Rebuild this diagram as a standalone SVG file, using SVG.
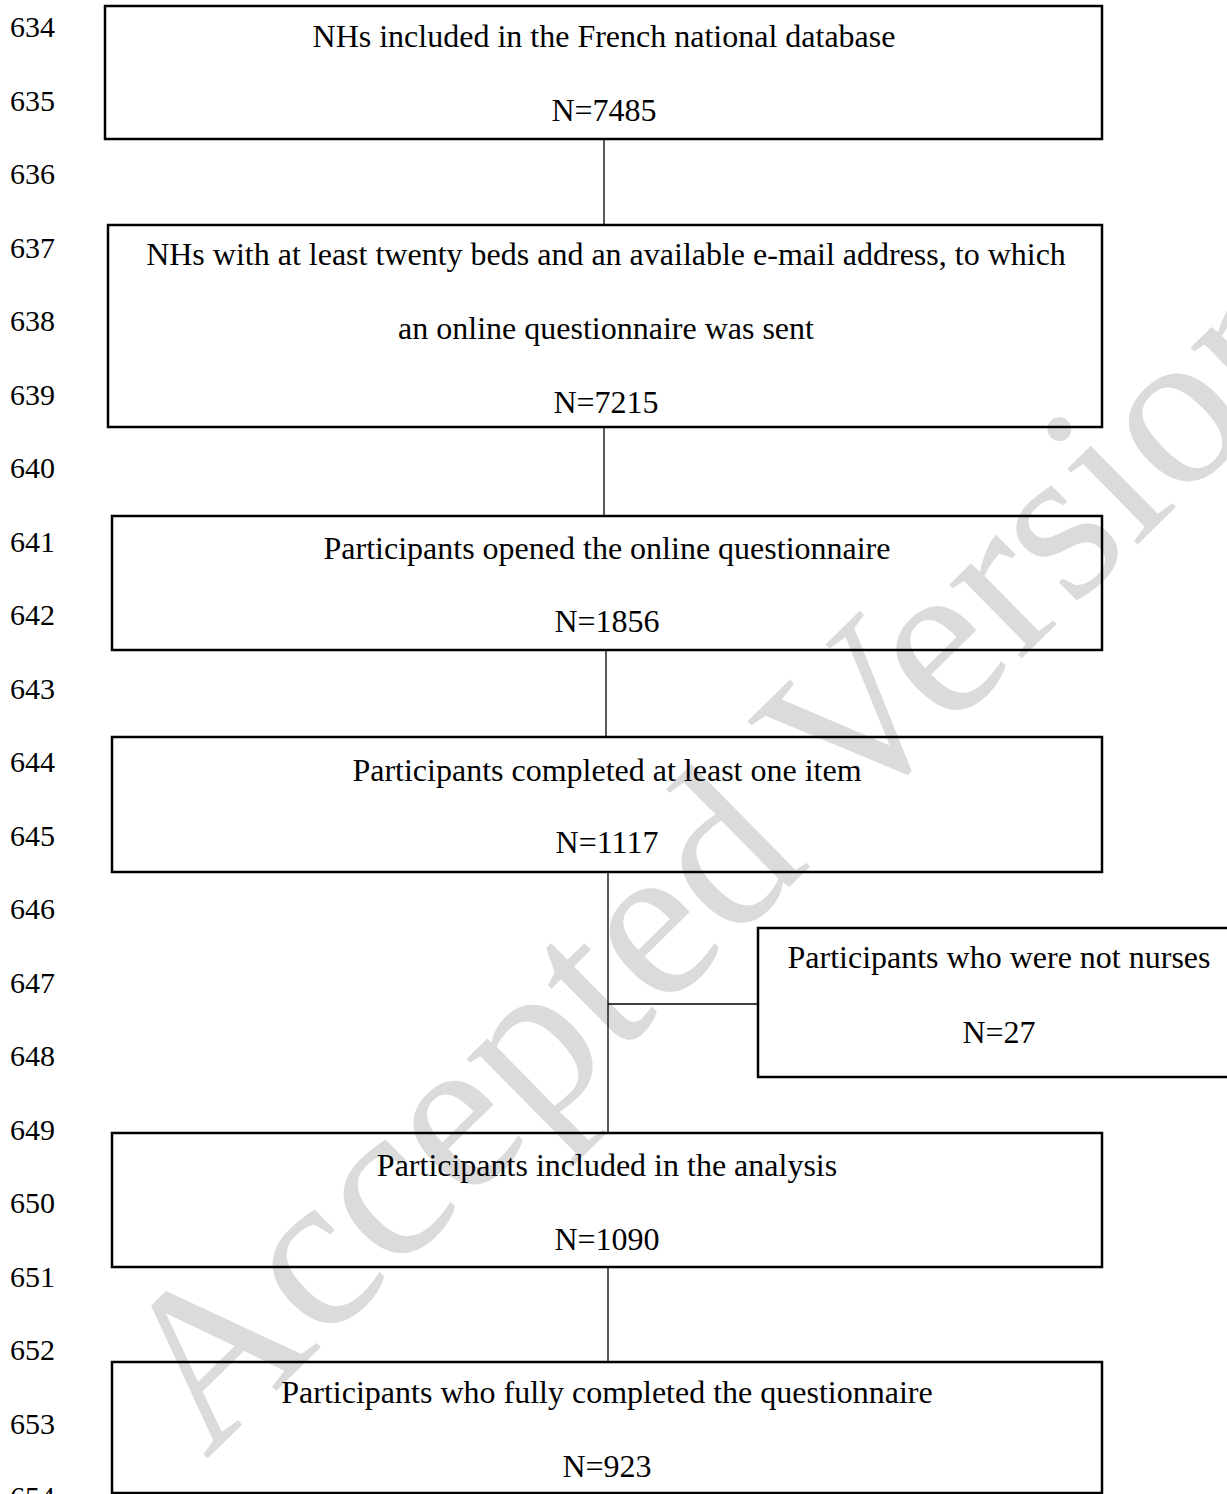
<svg xmlns="http://www.w3.org/2000/svg" width="1227" height="1494" viewBox="0 0 1227 1494">
<style>
  .ln { font-family: "Liberation Serif", "Times New Roman", serif; font-size: 30px; fill: #000; }
  .t { font-family: "Liberation Serif", "Times New Roman", serif; font-size: 32px; fill: #000; text-anchor: middle; }
  .box { fill: none; stroke: #000; stroke-width: 2.5; }
  .conn { stroke: #000; stroke-width: 1.3; fill: none; }
  .wm { font-family: "Liberation Serif", "Times New Roman", serif; font-size: 225px; fill: #dbdbdb; }
</style>
<rect width="1227" height="1494" fill="#fff"/>
<text class="wm" transform="translate(206,1460) rotate(-44.5)">Accepted Version</text>
<g id="line-numbers">
  <text class="ln" x="10" y="37">634</text>
  <text class="ln" x="10" y="110.5">635</text>
  <text class="ln" x="10" y="184">636</text>
  <text class="ln" x="10" y="257.5">637</text>
  <text class="ln" x="10" y="331">638</text>
  <text class="ln" x="10" y="404.5">639</text>
  <text class="ln" x="10" y="478">640</text>
  <text class="ln" x="10" y="551.5">641</text>
  <text class="ln" x="10" y="625">642</text>
  <text class="ln" x="10" y="698.5">643</text>
  <text class="ln" x="10" y="772">644</text>
  <text class="ln" x="10" y="845.5">645</text>
  <text class="ln" x="10" y="919">646</text>
  <text class="ln" x="10" y="992.5">647</text>
  <text class="ln" x="10" y="1066">648</text>
  <text class="ln" x="10" y="1139.5">649</text>
  <text class="ln" x="10" y="1213">650</text>
  <text class="ln" x="10" y="1286.5">651</text>
  <text class="ln" x="10" y="1360">652</text>
  <text class="ln" x="10" y="1433.5">653</text>
  <text class="ln" x="10" y="1507">654</text>
</g>
<g id="connectors">
  <line class="conn" x1="604" y1="139" x2="604" y2="225"/>
  <line class="conn" x1="604" y1="427" x2="604" y2="516"/>
  <line class="conn" x1="606" y1="650" x2="606" y2="737"/>
  <line class="conn" x1="608" y1="872" x2="608" y2="1133"/>
  <line class="conn" x1="608" y1="1004" x2="758" y2="1004"/>
  <line class="conn" x1="608" y1="1267" x2="608" y2="1362"/>
</g>
<g id="node1">
  <rect class="box" x="105" y="6" width="997" height="133"/>
  <text class="t" x="604" y="47">NHs included in the French national database</text>
  <text class="t" x="604" y="120.5">N=7485</text>
</g>
<g id="node2">
  <rect class="box" x="108" y="225" width="994" height="202"/>
  <text class="t" x="606" y="265">NHs with at least twenty beds and an available e-mail address, to which</text>
  <text class="t" x="606" y="339">an online questionnaire was sent</text>
  <text class="t" x="606" y="413">N=7215</text>
</g>
<g id="node3">
  <rect class="box" x="112" y="516" width="990" height="134"/>
  <text class="t" x="607" y="559">Participants opened the online questionnaire</text>
  <text class="t" x="607" y="632">N=1856</text>
</g>
<g id="node4">
  <rect class="box" x="112" y="737" width="990" height="135"/>
  <text class="t" x="607" y="781">Participants completed at least one item</text>
  <text class="t" x="607" y="853">N=1117</text>
</g>
<g id="node5">
  <rect class="box" x="758" y="928" width="482" height="149"/>
  <text class="t" x="999" y="968">Participants who were not nurses</text>
  <text class="t" x="999" y="1043">N=27</text>
</g>
<g id="node6">
  <rect class="box" x="112" y="1133" width="990" height="134"/>
  <text class="t" x="607" y="1176">Participants included in the analysis</text>
  <text class="t" x="607" y="1250">N=1090</text>
</g>
<g id="node7">
  <rect class="box" x="112" y="1362" width="990" height="131"/>
  <text class="t" x="607" y="1403">Participants who fully completed the questionnaire</text>
  <text class="t" x="607" y="1477">N=923</text>
</g>
</svg>
